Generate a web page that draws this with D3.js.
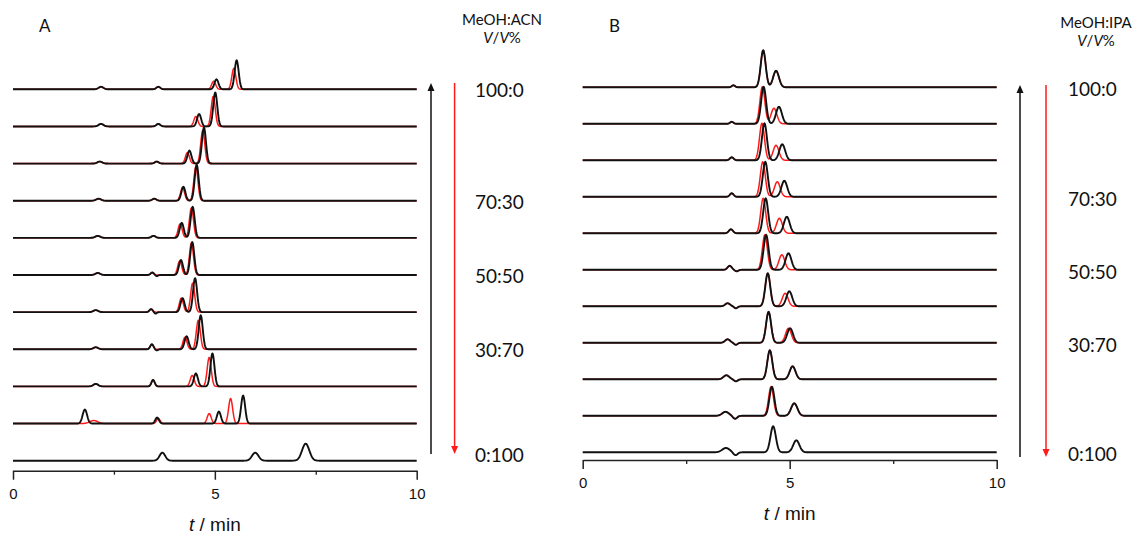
<!DOCTYPE html>
<html>
<head>
<meta charset="utf-8">
<script src="https://cdn.jsdelivr.net/npm/d3@7"></script>
<style>
body { margin: 0; background: #fff; }
text { fill: #111; }
</style>
</head>
<body>
<script>
// composition labels, one slot per chromatogram row (top to bottom)
var labelsA = ["100:0", "", "", "70:30", "", "50:50", "", "30:70", "", "", "0:100"];
var labelsB = ["100:0", "", "", "70:30", "", "50:50", "", "30:70", "", "", "0:100"];
var timeTicks = [0, 5, 10];
var minorTicks = [2.5, 7.5];

// peaks per row: [retention time (min), height, sigma (min, optional)]
var peaksBlackA = [
    [[2.18, 2.5, 0.06], [3.6, 2.5, 0.05], [5.04, 10], [5.54, 29]],
    [[2.18, 2.5, 0.06], [3.6, 2.5, 0.05], [4.61, 12.5], [5.01, 34]],
    [[2.15, 2, 0.06], [3.56, 2, 0.05], [4.37, 13], [4.73, 36]],
    [[2.12, 2, 0.06], [3.5, 2, 0.05], [4.22, 14], [4.55, 36]],
    [[2.1, 2, 0.06], [3.48, 2, 0.05], [4.18, 15], [4.45, 31]],
    [[2.1, 2, 0.06], [3.45, 2.5, 0.04], [3.56, -1.2, 0.03], [4.16, 15], [4.44, 33]],
    [[2.05, 2, 0.06], [3.42, 3, 0.04], [3.53, -1.5, 0.03], [4.2, 14], [4.51, 34]],
    [[2.05, 2, 0.06], [3.44, 5, 0.04], [3.56, -1.2, 0.03], [4.3, 13], [4.65, 34]],
    [[2.05, 2.5, 0.06], [3.47, 6.5, 0.04], [4.53, 13], [4.94, 33]],
    [[1.78, 14, 0.055], [3.57, 6, 0.045], [5.1, 12], [5.7, 28]],
    [[3.7, 8, 0.07], [6.0, 8, 0.08], [7.25, 17, 0.09]]
];
var peaksRedA = [
    [[2.18, 2.5, 0.06], [3.6, 2.5, 0.05], [4.97, 8], [5.47, 21]],
    [[2.18, 2.5, 0.06], [3.6, 2.5, 0.05], [4.53, 10], [4.96, 30]],
    [[2.15, 2, 0.06], [3.56, 2, 0.05], [4.32, 11], [4.7, 33]],
    [[2.12, 2, 0.06], [3.5, 2, 0.05], [4.2, 13], [4.53, 34]],
    [[2.1, 2, 0.06], [3.48, 2, 0.05], [4.14, 14], [4.42, 30]],
    [[2.1, 2, 0.06], [3.45, 2.5, 0.04], [4.13, 14], [4.42, 32]],
    [[2.05, 2, 0.06], [3.42, 3, 0.04], [4.17, 14], [4.45, 29]],
    [[2.05, 2, 0.06], [3.44, 5, 0.04], [4.26, 12], [4.59, 29]],
    [[2.05, 2.5, 0.06], [3.47, 6.5, 0.04], [4.44, 11], [4.86, 29]],
    [[2.0, 3, 0.1], [3.6, 5, 0.045], [4.86, 10], [5.39, 25]],
    []
];
var peaksBlackB = [
    [[3.64, 2, 0.04], [4.36, 37], [4.67, 16.5, 0.07]],
    [[3.6, 2, 0.04], [4.37, 37], [4.74, 17, 0.07]],
    [[3.6, 3, 0.045], [4.39, 37], [4.82, 16, 0.07]],
    [[3.6, 3.5, 0.045], [4.41, 35], [4.87, 16, 0.07]],
    [[3.58, 4, 0.05], [4.42, 35], [4.93, 16.5, 0.07]],
    [[3.55, 4, 0.05], [3.72, -1.5, 0.04], [4.43, 35], [4.97, 16.5, 0.07]],
    [[3.5, 3, 0.06], [3.7, -2, 0.04], [4.47, 33], [4.99, 15, 0.07]],
    [[3.5, 3.5, 0.06], [3.7, -2, 0.04], [4.49, 31], [5.01, 14.5, 0.07]],
    [[3.47, 4, 0.07], [3.7, -2, 0.045], [4.52, 29], [5.07, 13, 0.07]],
    [[3.45, 4, 0.08], [3.68, -3, 0.05], [4.57, 29], [5.11, 12.5, 0.075]],
    [[3.46, 4.3, 0.09], [3.69, -3, 0.05], [4.6, 26, 0.065], [5.16, 12, 0.075]]
];
var peaksRedB = [
    [[3.64, 2, 0.04], [4.36, 37], [4.67, 16.5, 0.07]],
    [[3.6, 2, 0.04], [4.34, 37], [4.62, 15.5, 0.07]],
    [[3.6, 3, 0.045], [4.33, 37], [4.67, 15, 0.07]],
    [[3.6, 3.5, 0.045], [4.35, 35], [4.7, 15, 0.07]],
    [[3.58, 4, 0.05], [4.36, 35], [4.75, 15, 0.07]],
    [[3.55, 4, 0.05], [3.72, -1.5, 0.04], [4.4, 35], [4.81, 15, 0.07]],
    [[3.5, 3, 0.06], [3.7, -2, 0.04], [4.47, 33], [4.89, 13, 0.07]],
    [[3.5, 3.5, 0.06], [3.7, -2, 0.04], [4.49, 31], [4.97, 14.5, 0.07]],
    [[3.47, 4, 0.07], [3.7, -2, 0.045], [4.52, 29], [5.07, 13, 0.07]],
    [[3.45, 4, 0.08], [3.68, -3, 0.05], [4.55, 29], [5.11, 12.5, 0.075]],
    []
];

var svgWidth = 1133, svgHeight = 536;
var sampleTimes = d3.range(0, 10.0001, 0.01);
var narrowFont = "'Liberation Sans Narrow', 'Liberation Sans', Arial, sans-serif";
var labelFont = "Lato, 'Open Sans', sans-serif";

var svg = d3.select("body").append("svg")
    .attr("width", svgWidth)
    .attr("height", svgHeight);

var panels = [
    { letter: "A", solvent: "MeOH:ACN", black: peaksBlackA, red: peaksRedA, labels: labelsA,
      x0: 13, x1: 416.7, top: 89.3, bottom: 460.7, axisY: 470.7, sigma: 0.05,
      letterX: 39, headX: 502, headY: 25, arrowBlackX: 431, arrowRedX: 454.6, arrowTop: 83, arrowBottom: 454,
      labelX: 475, labelDy: 8, labelMax: 462 },
    { letter: "B", solvent: "MeOH:IPA", black: peaksBlackB, red: peaksRedB, labels: labelsB,
      x0: 582.7, x1: 996.7, top: 87.3, bottom: 452.3, axisY: 460, sigma: 0.06,
      letterX: 609, headX: 1096, headY: 28, arrowBlackX: 1020, arrowRedX: 1046, arrowTop: 85, arrowBottom: 457,
      labelX: 1068, labelDy: 9, labelMax: 463 }
];

function signal(t, peaks, sigma) {
    var s = 0;
    peaks.forEach(function(p) {
        var w = p[2] || sigma;
        s += p[1] * Math.exp(-0.5 * Math.pow((t - p[0]) / w, 2));
    });
    return s;
}

panels.forEach(function(cfg) {
    var g = svg.append("g");
    var x = d3.scaleLinear().domain([0, 10]).range([cfg.x0, cfg.x1]);
    var row = d3.scaleLinear().domain([0, cfg.black.length - 1]).range([cfg.top, cfg.bottom]);
    var amp = d3.scaleLinear().domain([0, 40]).range([0, -40]);

    // red traces first, black on top (black a little wider so red only shows where they differ)
    [["red", "#ff1a1a", 1.5], ["black", "#111", 1.9]].forEach(function(series) {
        cfg[series[0]].forEach(function(peaks, i) {
            if (peaks.length === 0) return;
            var line = d3.line()
                .x(function(t) { return x(t); })
                .y(function(t) { return row(i) + amp(signal(t, peaks, cfg.sigma)); });
            g.append("path")
                .attr("d", line(sampleTimes))
                .attr("fill", "none")
                .attr("stroke", series[1])
                .attr("stroke-width", series[2])
                .attr("stroke-linejoin", "round");
        });
    });

    // time axis
    var axis = d3.axisBottom(x).tickValues(timeTicks).tickSize(9).tickSizeOuter(0)
        .tickPadding(8.5).tickFormat(d3.format("d"));
    var axisG = g.append("g").attr("transform", "translate(0," + cfg.axisY + ")").call(axis);
    axisG.select(".domain").attr("stroke", "#222").attr("stroke-width", 1.5);
    axisG.selectAll(".tick line").attr("stroke", "#222").attr("stroke-width", 1.5);
    axisG.selectAll(".tick text").attr("font-family", narrowFont).attr("font-size", 15).attr("fill", "#111");
    var minorG = g.append("g").attr("transform", "translate(0," + cfg.axisY + ")")
        .call(d3.axisBottom(x).tickValues(minorTicks).tickSize(4).tickSizeOuter(0).tickFormat(""));
    minorG.select(".domain").remove();
    minorG.selectAll(".tick line").attr("stroke", "#222").attr("stroke-width", 1.3);

    var title = g.append("text")
        .attr("x", (cfg.x0 + cfg.x1) / 2)
        .attr("y", cfg.axisY + 60)
        .attr("text-anchor", "middle")
        .attr("font-family", narrowFont)
        .attr("font-size", 19);
    title.append("tspan").attr("font-style", "italic").text("t");
    title.append("tspan").text(" / min");

    // panel letter and solvent header
    g.append("text").attr("x", cfg.letterX).attr("y", 32)
        .attr("font-family", labelFont).attr("font-size", 17).text(cfg.letter);
    g.append("text").attr("x", cfg.headX).attr("y", cfg.headY).attr("text-anchor", "middle")
        .attr("font-family", labelFont).attr("font-size", 15).text(cfg.solvent);
    var vv = g.append("text").attr("x", cfg.headX).attr("y", cfg.headY + 18).attr("text-anchor", "middle")
        .attr("font-family", labelFont).attr("font-size", 15);
    vv.append("tspan").attr("font-style", "italic").text("V");
    vv.append("tspan").text("/");
    vv.append("tspan").attr("font-style", "italic").text("V");
    vv.append("tspan").text("%");

    // composition labels
    cfg.labels.forEach(function(lab, i) {
        if (!lab) return;
        g.append("text")
            .attr("x", cfg.labelX)
            .attr("y", Math.min(row(i) + cfg.labelDy, cfg.labelMax))
            .attr("font-family", labelFont)
            .attr("font-size", 19)
            .text(lab);
    });

    // direction arrows
    g.append("line").attr("x1", cfg.arrowBlackX).attr("x2", cfg.arrowBlackX)
        .attr("y1", cfg.arrowBottom).attr("y2", cfg.arrowTop + 6)
        .attr("stroke", "#111").attr("stroke-width", 1.5);
    g.append("path")
        .attr("d", "M" + (cfg.arrowBlackX - 3.5) + "," + (cfg.arrowTop + 8) + "L" + cfg.arrowBlackX + "," + cfg.arrowTop +
              "L" + (cfg.arrowBlackX + 3.5) + "," + (cfg.arrowTop + 8) + "Z")
        .attr("fill", "#111");
    g.append("line").attr("x1", cfg.arrowRedX).attr("x2", cfg.arrowRedX)
        .attr("y1", cfg.arrowTop).attr("y2", cfg.arrowBottom - 6)
        .attr("stroke", "#ff1a1a").attr("stroke-width", 1.5);
    g.append("path")
        .attr("d", "M" + (cfg.arrowRedX - 3.5) + "," + (cfg.arrowBottom - 8) + "L" + cfg.arrowRedX + "," + cfg.arrowBottom +
              "L" + (cfg.arrowRedX + 3.5) + "," + (cfg.arrowBottom - 8) + "Z")
        .attr("fill", "#ff1a1a");
});
</script>
</body>
</html>
